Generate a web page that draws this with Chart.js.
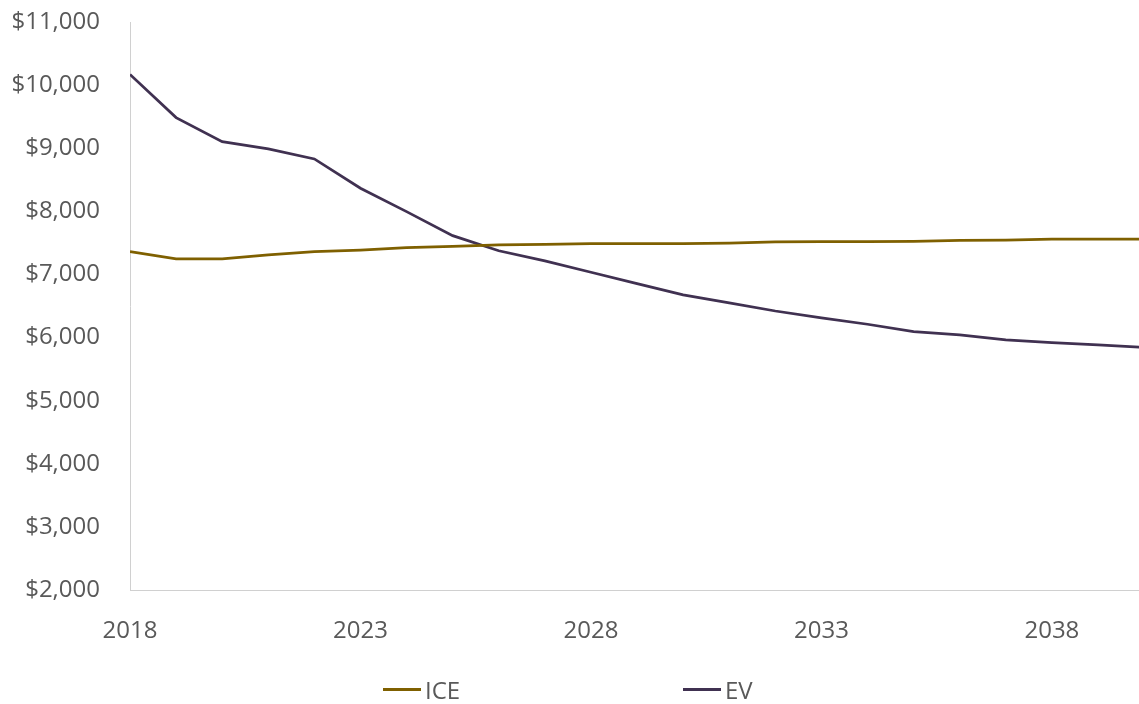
<!DOCTYPE html>
<html>
<head>
<meta charset="utf-8">
<script src="https://cdn.jsdelivr.net/npm/chart.js@4"></script>
<style>
  html, body { margin: 0; padding: 0; background: #ffffff; }
  #wrap { position: relative; width: 1139px; height: 704px; }
  #legend { position: absolute; left: 0; top: 674px; width: 1139px; height: 30px;
    font-family: "Open Sans", "Noto Sans", sans-serif; font-size: 24px; color: #595959; }
  .item { position: absolute; top: 0; display: flex; align-items: center; height: 30px; }
  .swatch { display: inline-block; width: 38px; height: 3px; margin-right: 4px; }
</style>
</head>
<body>
<div id="wrap">
  <canvas id="c" width="1139" height="704"></canvas>
  <div id="legend"></div>
</div>
<script>
const years = [2018,2019,2020,2021,2022,2023,2024,2025,2026,2027,2028,2029,2030,2031,2032,2033,2034,2035,2036,2037,2038,2039,2040];
const iceValues = [7360,7245,7245,7310,7360,7385,7425,7445,7470,7475,7490,7490,7490,7495,7515,7520,7520,7525,7540,7545,7560,7560,7560];
const evValues = [10170,9485,9105,8990,8830,8366,7995,7615,7375,7214,7035,6855,6675,6548,6421,6311,6211,6094,6041,5962,5920,5883,5843];
const xTickYears = [2018,2023,2028,2033,2038];
const seriesNames = ["ICE","EV"];
const seriesColors = ["#7f6000","#403151"];

const FONT = { family: '"Open Sans", "Noto Sans", sans-serif', size: 24 };

const ctx = document.getElementById('c');
new Chart(ctx, {
  type: 'line',
  data: {
    datasets: [
      { label: seriesNames[0], data: years.map((y,i)=>({x:y, y:iceValues[i]})),
        borderColor: seriesColors[0], backgroundColor: seriesColors[0], borderWidth: 2.75,
        pointRadius: 0, tension: 0 },
      { label: seriesNames[1], data: years.map((y,i)=>({x:y, y:evValues[i]})),
        borderColor: seriesColors[1], backgroundColor: seriesColors[1], borderWidth: 2.75,
        pointRadius: 0, tension: 0 }
    ]
  },
  options: {
    responsive: false,
    animation: false,
    layout: { padding: { top: 22, right: 0, bottom: 60, left: 0 } },
    plugins: { legend: { display: false }, tooltip: { enabled: false } },
    scales: {
      x: {
        type: 'linear',
        min: 2018,
        max: 2039.89,
        grid: { display: false, drawTicks: false },
        border: { display: true, color: '#d0d0d0', width: 1 },
        afterBuildTicks: (s) => { s.ticks = xTickYears.map(v => ({ value: v })); },
        afterFit: (s) => { s.height = 54; },
        ticks: { font: FONT, color: '#595959', padding: 27, maxRotation: 0,
                 callback: (v) => String(v) }
      },
      y: {
        min: 2000,
        max: 11000,
        grid: { display: false, drawTicks: false },
        border: { display: true, color: '#d0d0d0', width: 1 },
        afterFit: (s) => { s.width = 130; s.paddingTop = 0; s.paddingBottom = 0; },
        ticks: { stepSize: 1000, font: FONT, color: '#595959', padding: 30,
                 callback: (v) => '$' + v.toLocaleString('en-US') }
      }
    }
  }
});

// HTML legend
const legend = document.getElementById('legend');
const legendLeft = [383, 683];
seriesNames.forEach((name, i) => {
  const it = document.createElement('div');
  it.className = 'item';
  it.style.left = legendLeft[i] + 'px';
  const sw = document.createElement('span');
  sw.className = 'swatch';
  sw.style.background = seriesColors[i];
  const tx = document.createElement('span');
  tx.textContent = name;
  it.appendChild(sw); it.appendChild(tx);
  legend.appendChild(it);
});
</script>
</body>
</html>
